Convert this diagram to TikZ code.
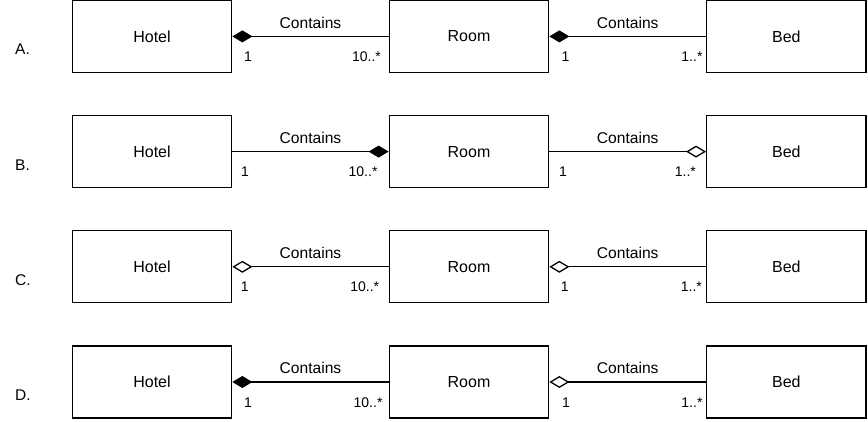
\documentclass[tikz,border=0pt]{standalone}
\usepackage{fontspec}
\setmainfont{Liberation Sans}
\usetikzlibrary{arrows.meta,calc}
\begin{document}
\begin{tikzpicture}[x=1pt,y=-1pt,
  box/.style={draw,line width=1.3pt,minimum width=159.4pt,minimum height=72pt,inner sep=0pt,font=\fontsize{16}{19}\selectfont},
  conn/.style={line width=1.3pt},
  compA/.style={{Diamond[length=20pt,width=12pt]}-},
  compB/.style={-{Diamond[length=20pt,width=12pt]}},
  aggA/.style={{Diamond[open,length=20pt,width=12pt,fill=white]}-},
  aggB/.style={-{Diamond[open,length=20pt,width=12pt,fill=white]}},
  rel/.style={font=\fontsize{15.6}{18}\selectfont,inner sep=0pt,anchor=base},
  multl/.style={font=\fontsize{14}{16}\selectfont,inner sep=0pt,anchor=base west},
  multr/.style={font=\fontsize{14}{16}\selectfont,inner sep=0pt,anchor=base east},
  rowlab/.style={font=\fontsize{15.5}{18}\selectfont,inner sep=0pt,anchor=base west}]
\useasboundingbox (0,0) rectangle (868,421);

% Row A
\node[box] (hA) at (152,36.4) {Hotel};
\node[box] (rA) at (469,36.4) {Room};
\node[box] (bA) at (786.4,36.4) {Bed};
\node[rowlab] (lA) at (15,54.8) {A.};
\draw[conn,compA] (hA.east) -- (rA.west);
\draw[conn,compA] (rA.east) -- (bA.west);
\node[rel] (cA1) at ($(hA.east)!0.5!(rA.west)+(0,-8.3)$) {Contains};
\node[rel] (cA2) at ($(rA.east)!0.5!(bA.west)+(0,-8.3)$) {Contains};
\node[multl] (mA1) at ($(hA.east)+(11.6,25)$) {1};
\node[multr] (mA2) at ($(rA.west)+(-7.6,25)$) {10..*};
\node[multl] (mA3) at ($(rA.east)+(12,25)$) {1};
\node[multr] (mA4) at ($(bA.west)+(-3.4,25)$) {1..*};

% Row B
\node[box] (hB) at (152,151.6) {Hotel};
\node[box] (rB) at (469,151.6) {Room};
\node[box] (bB) at (786.4,151.6) {Bed};
\node[rowlab] (lB) at (15,170) {B.};
\draw[conn,compB] (hB.east) -- (rB.west);
\draw[conn,aggB] (rB.east) -- (bB.west);
\node[rel] (cB1) at ($(hB.east)!0.5!(rB.west)+(0,-8.3)$) {Contains};
\node[rel] (cB2) at ($(rB.east)!0.5!(bB.west)+(0,-8.3)$) {Contains};
\node[multl] (mB1) at ($(hB.east)+(8.5,25)$) {1};
\node[multr] (mB2) at ($(rB.west)+(-11,25)$) {10..*};
\node[multl] (mB3) at ($(rB.east)+(9.6,25)$) {1};
\node[multr] (mB4) at ($(bB.west)+(-10,25)$) {1..*};

% Row C
\node[box] (hC) at (152,266.8) {Hotel};
\node[box] (rC) at (469,266.8) {Room};
\node[box] (bC) at (786.4,266.8) {Bed};
\node[rowlab] (lC) at (15,285.2) {C.};
\draw[conn,aggA] (hC.east) -- (rC.west);
\draw[conn,aggA] (rC.east) -- (bC.west);
\node[rel] (cC1) at ($(hC.east)!0.5!(rC.west)+(0,-8.3)$) {Contains};
\node[rel] (cC2) at ($(rC.east)!0.5!(bC.west)+(0,-8.3)$) {Contains};
\node[multl] (mC1) at ($(hC.east)+(8.3,25)$) {1};
\node[multr] (mC2) at ($(rC.west)+(-9.3,25)$) {10..*};
\node[multl] (mC3) at ($(rC.east)+(11.3,25)$) {1};
\node[multr] (mC4) at ($(bC.west)+(-4,25)$) {1..*};

% Row D
\node[box] (hD) at (152,382) {Hotel};
\node[box] (rD) at (469,382) {Room};
\node[box] (bD) at (786.4,382) {Bed};
\node[rowlab] (lD) at (15,400.4) {D.};
\draw[conn,compA] (hD.east) -- (rD.west);
\draw[conn,aggA] (rD.east) -- (bD.west);
\node[rel] (cD1) at ($(hD.east)!0.5!(rD.west)+(0,-8.3)$) {Contains};
\node[rel] (cD2) at ($(rD.east)!0.5!(bD.west)+(0,-8.3)$) {Contains};
\node[multl] (mD1) at ($(hD.east)+(11.6,25)$) {1};
\node[multr] (mD2) at ($(rD.west)+(-6,25)$) {10..*};
\node[multl] (mD3) at ($(rD.east)+(12.5,25)$) {1};
\node[multr] (mD4) at ($(bD.west)+(-3.4,25)$) {1..*};
\end{tikzpicture}
\end{document}
